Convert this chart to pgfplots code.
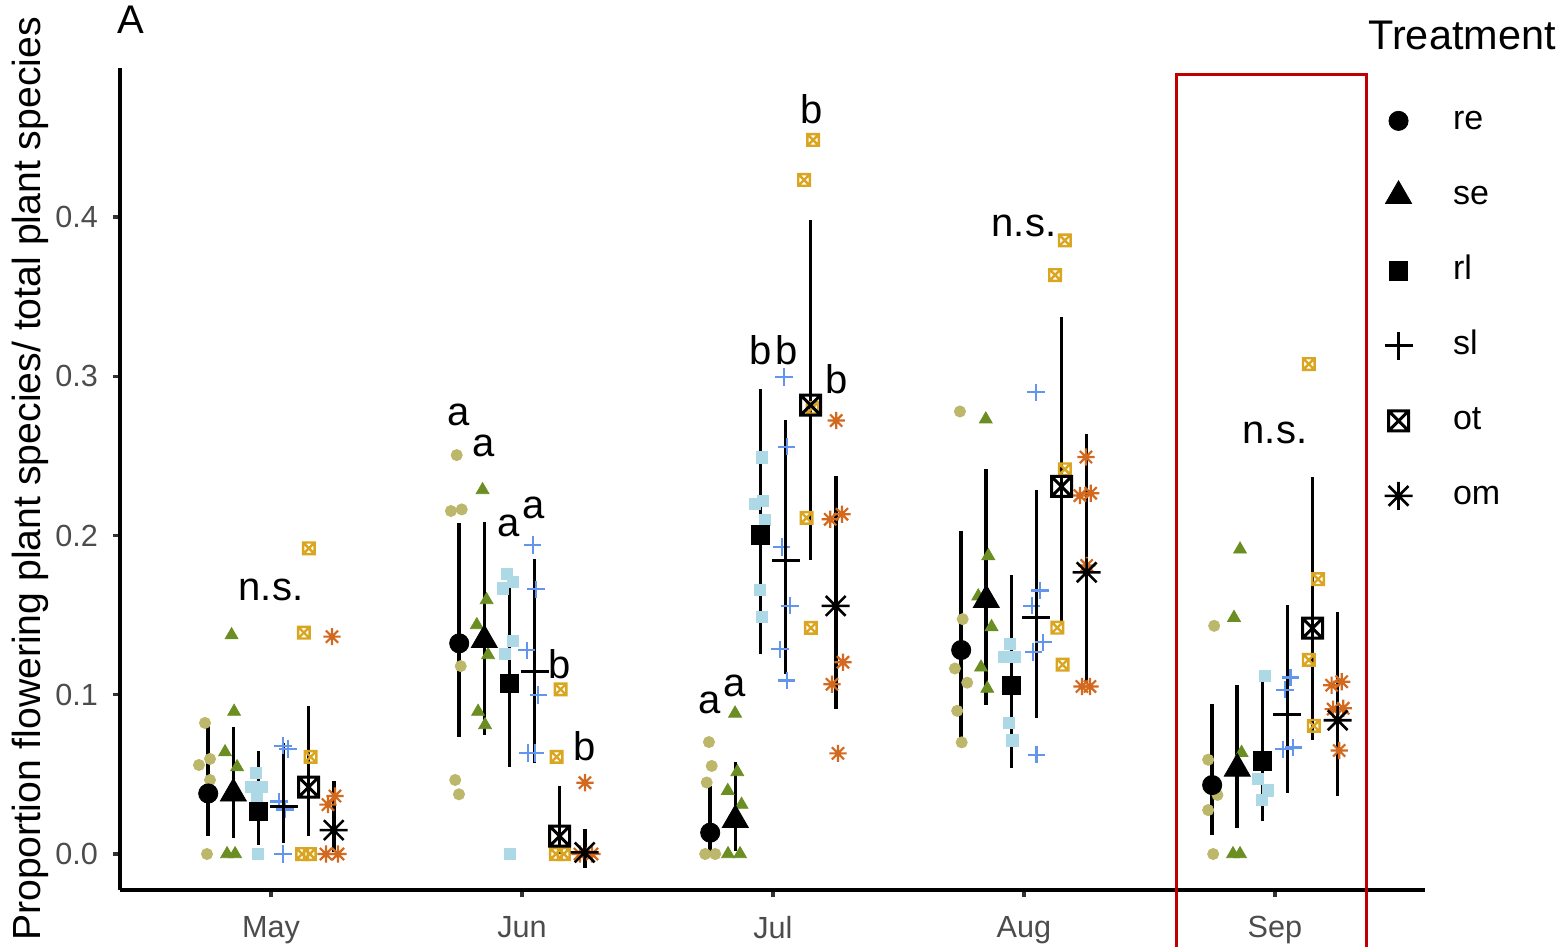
\documentclass[border=0pt]{standalone}
\usepackage{pgfplots}
\pgfplotsset{compat=1.18}
\usepackage{pgfplotstable}
\usepackage{fontspec}
\setmainfont{Liberation Sans}
\definecolor{cre}{HTML}{BDB76B}
\definecolor{cse}{HTML}{6B8E23}
\definecolor{crl}{HTML}{ADD8E6}
\definecolor{csl}{HTML}{6495ED}
\definecolor{cot}{HTML}{DAA520}
\definecolor{com}{HTML}{D2691E}
\definecolor{cred}{HTML}{C00000}

\pgfdeclareplotmark{sqx}{%
  \pgfpathrectangle{\pgfqpoint{-\pgfplotmarksize}{-\pgfplotmarksize}}{\pgfqpoint{2\pgfplotmarksize}{2\pgfplotmarksize}}%
  \pgfpathmoveto{\pgfqpoint{-\pgfplotmarksize}{-\pgfplotmarksize}}\pgfpathlineto{\pgfqpoint{\pgfplotmarksize}{\pgfplotmarksize}}%
  \pgfpathmoveto{\pgfqpoint{-\pgfplotmarksize}{\pgfplotmarksize}}\pgfpathlineto{\pgfqpoint{\pgfplotmarksize}{-\pgfplotmarksize}}%
  \pgfusepathqstroke}
\pgfdeclareplotmark{ast8}{%
  \pgfpathmoveto{\pgfqpoint{-\pgfplotmarksize}{0pt}}\pgfpathlineto{\pgfqpoint{\pgfplotmarksize}{0pt}}%
  \pgfpathmoveto{\pgfqpoint{0pt}{-\pgfplotmarksize}}\pgfpathlineto{\pgfqpoint{0pt}{\pgfplotmarksize}}%
  \pgfpathmoveto{\pgfqpoint{-.7071\pgfplotmarksize}{-.7071\pgfplotmarksize}}\pgfpathlineto{\pgfqpoint{.7071\pgfplotmarksize}{.7071\pgfplotmarksize}}%
  \pgfpathmoveto{\pgfqpoint{-.7071\pgfplotmarksize}{.7071\pgfplotmarksize}}\pgfpathlineto{\pgfqpoint{.7071\pgfplotmarksize}{-.7071\pgfplotmarksize}}%
  \pgfusepathqstroke}

% raw observations (x = month index + jitter)
\pgfplotstableread{
x y
-0.263 0.0823
-0.287 0.0559
-0.243 0.0597
-0.243 0.0465
-0.255 0
0.740 0.2505
0.717 0.2154
0.760 0.2164
0.756 0.118
0.734 0.0465
0.749 0.0375
1.745 0.0703
1.756 0.0553
1.736 0.0449
1.730 0
1.770 0
2.745 0.2779
2.756 0.1475
2.725 0.1165
2.774 0.1076
2.734 0.0899
2.752 0.0701
3.758 0.1433
3.734 0.0592
3.771 0.0371
3.734 0.0276
3.754 0
}\rawre
\pgfplotstableread{
x y
-0.157 0.1375
-0.147 0.0894
-0.183 0.064
-0.135 0.0546
-0.175 0
-0.143 0
0.843 0.2286
0.859 0.1595
0.820 0.1438
0.865 0.125
0.825 0.0894
0.853 0.081
1.849 0.0883
1.858 0.0515
1.820 0.0397
1.875 0.031
1.821 0
1.869 0
2.848 0.273
2.858 0.1872
2.818 0.1619
2.871 0.1426
2.829 0.1172
2.854 0.1039
3.861 0.1913
3.837 0.1484
3.867 0.0636
3.833 0
3.861 0
}\rawse
\pgfplotstableread{
x y
-0.060 0.051
-0.081 0.042
-0.037 0.042
-0.057 0.036
-0.053 0
0.939 0.176
0.965 0.171
0.925 0.1668
0.964 0.134
0.932 0.1256
0.952 0
1.956 0.249
1.929 0.2198
1.961 0.2217
1.968 0.21
1.949 0.166
1.956 0.149
2.944 0.1317
2.920 0.1237
2.964 0.1237
2.940 0.0822
2.954 0.0713
3.960 0.112
3.932 0.047
3.972 0.040
3.948 0.034
}\rawrl
\pgfplotstableread{
x y
0.048 0.068
0.068 0.066
0.032 0.033
0.056 0.028
0.048 0
1.043 0.194
1.056 0.1662
1.019 0.128
1.065 0.0998
1.024 0.0634
1.052 0.0634
2.044 0.2995
2.055 0.2558
2.035 0.1928
2.068 0.1559
2.028 0.1285
2.055 0.109
3.048 0.2899
3.064 0.1655
3.031 0.1559
3.077 0.1329
3.037 0.1269
3.050 0.0624
4.062 0.1109
4.040 0.1032
4.033 0.0658
4.073 0.0669
}\rawsl
\pgfplotstableread{
x y
0.151 0.192
0.131 0.139
0.158 0.061
0.124 0
0.155 0
1.154 0.1034
1.138 0.061
1.135 0
1.167 0
2.160 0.4484
2.124 0.4233
2.158 0.2802
2.134 0.2111
2.151 0.142
3.163 0.3853
3.124 0.3636
3.163 0.2416
3.133 0.1421
3.154 0.1189
4.135 0.3077
4.172 0.1726
4.135 0.1219
4.155 0.0805
}\rawot
\pgfplotstableread{
x y
0.243 0.1365
0.255 0.0364
0.227 0.031
0.219 0
0.267 0
1.251 0.0448
1.231 0
1.279 0
2.252 0.2722
2.228 0.2102
2.275 0.2134
2.279 0.1204
2.235 0.1066
2.259 0.0632
3.247 0.2493
3.223 0.2251
3.266 0.2266
3.250 0.1812
3.231 0.1052
3.263 0.1052
4.226 0.106
4.266 0.1082
4.232 0.091
4.272 0.0915
4.256 0.065
}\rawom

% means with interval limits
\pgfplotstableread{
x y lo hi
-0.25 0.038 0.011 0.082
0.75 0.1323 0.0733 0.2077
1.75 0.0134 0.0 0.043
2.75 0.1281 0.0701 0.203
3.75 0.0433 0.0117 0.0944
}\meanre
\pgfplotstableread{
x y lo hi
-0.15 0.038 0.010 0.080
0.85 0.1344 0.0747 0.2087
1.85 0.0214 0.002 0.0575
2.85 0.1595 0.0936 0.2416
3.85 0.0536 0.0162 0.106
}\meanse
\pgfplotstableread{
x y lo hi
-0.05 0.0266 0.0057 0.065
0.95 0.1072 0.0548 0.1756
1.95 0.2005 0.1259 0.2921
2.95 0.1059 0.0537 0.1752
3.95 0.0585 0.0206 0.1158
}\meanrl
\pgfplotstableread{
x y lo hi
0.05 0.030 0.007 0.070
1.05 0.1143 0.057 0.185
2.05 0.1844 0.113 0.2728
3.05 0.1486 0.0851 0.2283
4.05 0.0873 0.0386 0.1561
}\meansl
\pgfplotstableread{
x y lo hi
0.15 0.042 0.0113 0.093
1.15 0.0113 0.0 0.0427
2.15 0.2819 0.1847 0.398
3.15 0.2308 0.1451 0.3375
4.15 0.1418 0.0717 0.2369
}\meanot
\pgfplotstableread{
x y lo hi
0.25 0.015 0.0015 0.046
1.25 0.001 -0.009 0.016
2.25 0.1558 0.0912 0.2375
3.25 0.1769 0.1076 0.2638
4.25 0.084 0.0364 0.1517
}\meanom

\pgfplotsset{
  meanbar/.style={
    error bars/.cd, y dir=both, y explicit, error mark=none,
    error bar style={line width=1.8pt, black, solid}},
}

\begin{document}
\begin{tikzpicture}
\begin{axis}[
  name=ax,
  width=652.5pt, height=411pt, scale only axis,
  xmin=-0.6016, xmax=4.598, ymin=-0.0226, ymax=0.4936,
  every non boxed x axis/.style={}, every non boxed y axis/.style={},
  axis lines*=left,
  axis line style={-, black, line width=1.8pt},
  xtick={0,1,2,3,4}, xticklabels={May,Jun,Jul,Aug,Sep},
  ytick={0,0.1,0.2,0.3,0.4},
  yticklabel style={/pgf/number format/fixed, /pgf/number format/fixed zerofill, /pgf/number format/precision=1, xshift=-4pt},
  xticklabel style={yshift=-6pt},
  /pgf/number format/assume math mode=true,
  tick align=outside, major tick length=3.5pt,
  tick style={line width=1.6pt, color=black!80},
  ticklabel style={font=\fontsize{15.3}{18}\selectfont, text=black!70},
  ylabel={Proportion flowering plant species/ total plant species},
  ylabel style={font=\fontsize{19.6}{23}\selectfont, at={(axis description cs:-0.069,0.5)}, anchor=center},
  clip=false,
  legend style={at={(0.969,0.9566)}, anchor=north west, draw=none, fill=none,
    inner sep=0pt, outer sep=0pt, row sep=19.5pt,
    font=\fontsize{17}{20}\selectfont,
    nodes={inner sep=0pt, outer sep=0pt, text height=13pt, text depth=5pt, anchor=base west},
    cells={anchor=base west},
    /tikz/every odd column/.append style={column sep=20.25pt}},
  legend image code/.code={\draw[#1, only marks] plot coordinates {(0pt,4.4pt)};},
]
% raw points
\addplot[only marks, mark=*, mark size=2.8pt, color=cre, forget plot] table[x=x,y=y] {\rawre};
\addplot[only marks, mark=triangle*, mark size=3.7pt, color=cse, forget plot] table[x=x,y=y] {\rawse};
\addplot[only marks, mark=square*, mark size=2.8pt, color=crl, forget plot] table[x=x,y=y] {\rawrl};
\addplot[only marks, mark=+, mark size=4.3pt, color=csl, line width=1.1pt, forget plot] table[x=x,y=y] {\rawsl};
\addplot[only marks, mark=sqx, mark size=2.9pt, color=cot, line width=1.2pt, forget plot] table[x=x,y=y] {\rawot};
\addplot[only marks, mark=ast8, mark size=4.3pt, color=com, line width=1.1pt, forget plot] table[x=x,y=y] {\rawom};
% means with intervals
\addplot[only marks, mark=*, mark size=4.8pt, black, meanbar]
  table[x=x, y=y, y error plus expr=\thisrow{hi}-\thisrow{y}, y error minus expr=\thisrow{y}-\thisrow{lo}] {\meanre};
\addlegendentry{re}
\addplot[only marks, mark=triangle*, mark size=7.5pt, black, meanbar]
  table[x=x, y=y, y error plus expr=\thisrow{hi}-\thisrow{y}, y error minus expr=\thisrow{y}-\thisrow{lo}] {\meanse};
\addlegendentry{se}
\addplot[only marks, mark=square*, mark size=4.6pt, black, meanbar]
  table[x=x, y=y, y error plus expr=\thisrow{hi}-\thisrow{y}, y error minus expr=\thisrow{y}-\thisrow{lo}] {\meanrl};
\addlegendentry{rl}
\addplot[only marks, mark=+, mark size=7pt, black, line width=1.5pt, meanbar]
  table[x=x, y=y, y error plus expr=\thisrow{hi}-\thisrow{y}, y error minus expr=\thisrow{y}-\thisrow{lo}] {\meansl};
\addlegendentry{sl}
\addplot[only marks, mark=sqx, mark size=5pt, black, line width=1.5pt, meanbar]
  table[x=x, y=y, y error plus expr=\thisrow{hi}-\thisrow{y}, y error minus expr=\thisrow{y}-\thisrow{lo}] {\meanot};
\addlegendentry{ot}
\addplot[only marks, mark=ast8, mark size=7pt, black, line width=1.3pt, meanbar]
  table[x=x, y=y, y error plus expr=\thisrow{hi}-\thisrow{y}, y error minus expr=\thisrow{y}-\thisrow{lo}] {\meanom};
\addlegendentry{om}

% significance letters
\begin{scope}[every node/.style={anchor=base, font=\fontsize{20}{24}\selectfont, inner sep=0pt}]
\node at (axis cs:0,0.1589) {n.s.};
\node at (axis cs:0.749,0.2694) {a};
\node at (axis cs:0.849,0.2495) {a};
\node at (axis cs:0.946,0.1993) {a};
\node at (axis cs:1.048,0.2104) {a};
\node at (axis cs:1.151,0.1105) {b};
\node at (axis cs:1.251,0.059) {b};
\node at (axis cs:1.749,0.0885) {a};
\node at (axis cs:1.849,0.0986) {a};
\node at (axis cs:1.952,0.3077) {b};
\node at (axis cs:2.055,0.3077) {b};
\node at (axis cs:2.154,0.459) {b};
\node at (axis cs:2.254,0.2895) {b};
\node at (axis cs:3,0.388) {n.s.};
\node at (axis cs:4,0.258) {n.s.};
\node at (axis cs:-0.558,0.515) {A};
\end{scope}
\node[anchor=base west, font=\fontsize{20.7}{24}\selectfont, inner sep=0pt] at (axis cs:4.371,0.5049) {Treatment};
\draw[cred, line width=1.5pt] (axis cs:3.606,-0.09) rectangle (axis cs:4.363,0.4898);
\coordinate (O) at (rel axis cs:0,0);
\end{axis}
\pgfresetboundingbox
\path[use as bounding box] ([shift={(-60pt,-28.5pt)}]O) rectangle ([shift={(721.5pt,445pt)}]O);
\end{tikzpicture}
\end{document}
